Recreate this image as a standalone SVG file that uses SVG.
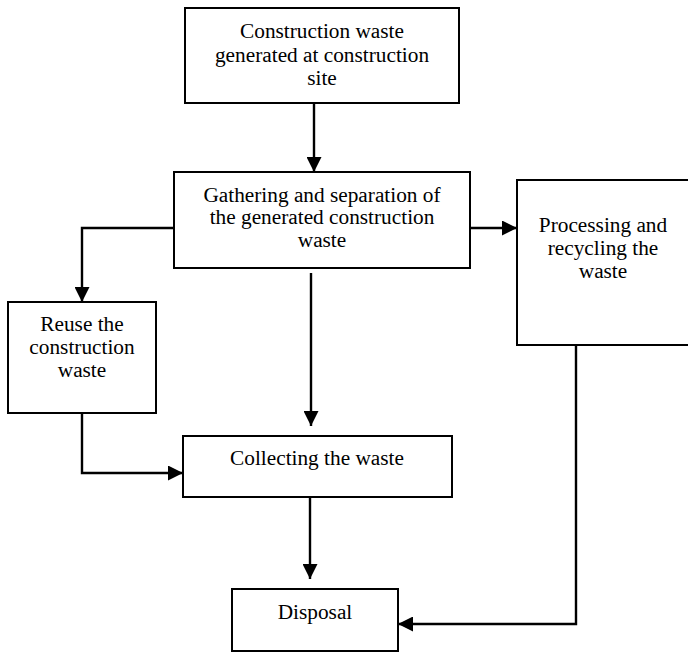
<svg xmlns="http://www.w3.org/2000/svg" width="688" height="652" viewBox="0 0 688 652">
<style>
.box{fill:#fff;stroke:#000;stroke-width:2}
.t{font-family:"Liberation Serif","Times New Roman",serif;font-size:21.3px;fill:#000;text-anchor:middle}
.c{fill:none;stroke:#000;stroke-width:2.4}
</style>
<defs>
<marker id="ah" markerWidth="15" markerHeight="15" refX="15" refY="7.5" orient="auto" markerUnits="userSpaceOnUse">
<path d="M0,0 L15,7.5 L0,15 Z" fill="#000"/>
</marker>
</defs>
<rect width="688" height="652" fill="#fff"/>
<g id="n1">
<rect class="box" x="185" y="8" width="274" height="95"/>
<text class="t" x="322" y="38">Construction waste</text>
<text class="t" x="322" y="62">generated at construction</text>
<text class="t" x="322" y="85">site</text>
</g>
<g id="n2">
<rect class="box" x="174" y="172" width="296" height="96"/>
<text class="t" x="322" y="202">Gathering and separation of</text>
<text class="t" x="322" y="224">the generated construction</text>
<text class="t" x="322" y="247">waste</text>
</g>
<g id="n3">
<rect class="box" x="517" y="180" width="172" height="165"/>
<text class="t" x="603" y="232">Processing and</text>
<text class="t" x="603" y="255">recycling the</text>
<text class="t" x="603" y="278">waste</text>
</g>
<g id="n4">
<rect class="box" x="8" y="302" width="148" height="111"/>
<text class="t" x="82" y="331">Reuse the</text>
<text class="t" x="82" y="354">construction</text>
<text class="t" x="82" y="377">waste</text>
</g>
<g id="n5">
<rect class="box" x="183" y="436" width="269" height="61"/>
<text class="t" x="317" y="465">Collecting the waste</text>
</g>
<g id="n6">
<rect class="box" x="232" y="589" width="166" height="62"/>
<text class="t" x="315" y="619">Disposal</text>
</g>
<g id="connectors">
<path class="c" d="M314,103 V172" marker-end="url(#ah)"/>
<path class="c" d="M174,228 H82 V302" marker-end="url(#ah)"/>
<path class="c" d="M470,228 H517" marker-end="url(#ah)"/>
<path class="c" d="M311,273 V426" marker-end="url(#ah)"/>
<path class="c" d="M82,413 V473 H183" marker-end="url(#ah)"/>
<path class="c" d="M310,497 V579" marker-end="url(#ah)"/>
<path class="c" d="M576,345 V624 H398" marker-end="url(#ah)"/>
</g>
</svg>
